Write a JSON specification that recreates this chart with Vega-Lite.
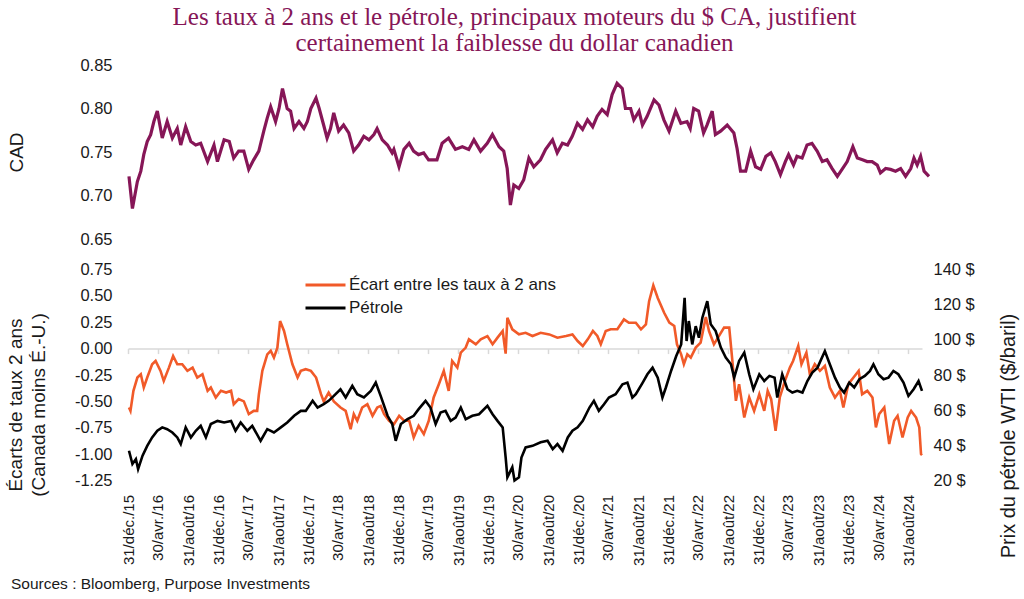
{
"$schema": "https://vega.github.io/schema/vega-lite/v6.json",
"background": "white",
"padding": {"left": 6, "top": 5, "right": 4, "bottom": 4},
"config": {"view": {"stroke": null}, "axis": {"labelFont": "Liberation Sans", "titleFont": "Liberation Sans", "labelColor": "#1a1a1a", "titleColor": "#1a1a1a", "titleFontWeight": "normal", "grid": false}},
"resolve": {"scale": {"x": "independent", "y": "independent", "color": "independent"}},
"spacing": 30.5,
"bounds": "flush",
"datasets": {
"cad": [
{"d":"2016-01-04","v":0.722},{"d":"2016-01-18","v":0.685},{"d":"2016-02-07","v":0.716},{"d":"2016-02-21","v":0.728},{"d":"2016-03-04","v":0.747},{"d":"2016-03-18","v":0.762},{"d":"2016-04-01","v":0.770},{"d":"2016-04-14","v":0.785},{"d":"2016-04-28","v":0.797},{"d":"2016-05-18","v":0.766},{"d":"2016-06-07","v":0.785},{"d":"2016-06-28","v":0.766},{"d":"2016-07-18","v":0.777},{"d":"2016-08-01","v":0.758},{"d":"2016-08-21","v":0.779},{"d":"2016-09-11","v":0.762},{"d":"2016-10-01","v":0.758},{"d":"2016-10-21","v":0.760},{"d":"2016-11-18","v":0.739},{"d":"2016-12-14","v":0.758},{"d":"2016-12-28","v":0.739},
{"d":"2017-01-24","v":0.764},{"d":"2017-02-14","v":0.762},{"d":"2017-03-04","v":0.743},{"d":"2017-03-24","v":0.751},{"d":"2017-04-14","v":0.751},{"d":"2017-05-04","v":0.730},{"d":"2017-05-24","v":0.741},{"d":"2017-06-14","v":0.751},{"d":"2017-07-04","v":0.774},{"d":"2017-07-18","v":0.789},{"d":"2017-08-01","v":0.802},{"d":"2017-08-21","v":0.785},{"d":"2017-09-04","v":0.800},{"d":"2017-09-18","v":0.823},{"d":"2017-10-07","v":0.800},{"d":"2017-10-21","v":0.797},{"d":"2017-11-04","v":0.777},{"d":"2017-11-24","v":0.785},{"d":"2017-12-14","v":0.777},{"d":"2017-12-28","v":0.785},
{"d":"2018-01-11","v":0.800},{"d":"2018-02-01","v":0.812},{"d":"2018-02-14","v":0.800},{"d":"2018-03-04","v":0.781},{"d":"2018-03-18","v":0.766},{"d":"2018-04-01","v":0.777},{"d":"2018-04-14","v":0.795},{"d":"2018-05-04","v":0.774},{"d":"2018-05-24","v":0.781},{"d":"2018-06-14","v":0.772},{"d":"2018-07-04","v":0.751},{"d":"2018-07-24","v":0.758},{"d":"2018-08-14","v":0.768},{"d":"2018-09-04","v":0.764},{"d":"2018-09-24","v":0.770},{"d":"2018-10-07","v":0.777},{"d":"2018-10-28","v":0.764},{"d":"2018-11-18","v":0.758},{"d":"2018-12-07","v":0.749},{"d":"2018-12-14","v":0.753},
{"d":"2019-01-04","v":0.733},{"d":"2019-01-24","v":0.753},{"d":"2019-02-14","v":0.760},{"d":"2019-03-04","v":0.751},{"d":"2019-03-24","v":0.747},{"d":"2019-04-14","v":0.749},{"d":"2019-05-04","v":0.741},{"d":"2019-06-07","v":0.741},{"d":"2019-06-28","v":0.760},{"d":"2019-07-24","v":0.766},{"d":"2019-08-21","v":0.753},{"d":"2019-09-18","v":0.756},{"d":"2019-10-14","v":0.753},{"d":"2019-11-04","v":0.764},{"d":"2019-12-01","v":0.751},{"d":"2019-12-28","v":0.760},
{"d":"2020-01-18","v":0.770},{"d":"2020-02-14","v":0.756},{"d":"2020-03-04","v":0.751},{"d":"2020-03-18","v":0.731},{"d":"2020-03-31","v":0.689},{"d":"2020-04-14","v":0.712},{"d":"2020-05-04","v":0.708},{"d":"2020-05-24","v":0.718},{"d":"2020-06-14","v":0.743},{"d":"2020-07-04","v":0.733},{"d":"2020-07-31","v":0.741},{"d":"2020-08-21","v":0.753},{"d":"2020-09-18","v":0.764},{"d":"2020-10-07","v":0.749},{"d":"2020-10-28","v":0.760},{"d":"2020-11-18","v":0.758},{"d":"2020-12-07","v":0.768},{"d":"2020-12-28","v":0.783},
{"d":"2021-01-18","v":0.776},{"d":"2021-02-07","v":0.787},{"d":"2021-02-28","v":0.779},{"d":"2021-03-18","v":0.791},{"d":"2021-04-07","v":0.799},{"d":"2021-04-28","v":0.793},{"d":"2021-05-18","v":0.816},{"d":"2021-06-07","v":0.829},{"d":"2021-06-28","v":0.823},{"d":"2021-07-11","v":0.800},{"d":"2021-08-01","v":0.800},{"d":"2021-08-14","v":0.787},{"d":"2021-09-04","v":0.797},{"d":"2021-09-18","v":0.781},{"d":"2021-10-07","v":0.791},{"d":"2021-11-04","v":0.810},{"d":"2021-11-24","v":0.804},{"d":"2021-12-14","v":0.787},
{"d":"2022-01-04","v":0.774},{"d":"2022-01-31","v":0.797},{"d":"2022-02-21","v":0.783},{"d":"2022-03-18","v":0.785},{"d":"2022-03-31","v":0.777},{"d":"2022-04-14","v":0.800},{"d":"2022-05-04","v":0.797},{"d":"2022-05-24","v":0.772},{"d":"2022-06-07","v":0.781},{"d":"2022-06-28","v":0.797},{"d":"2022-07-11","v":0.770},{"d":"2022-08-01","v":0.774},{"d":"2022-08-28","v":0.781},{"d":"2022-09-24","v":0.772},{"d":"2022-10-07","v":0.754},{"d":"2022-10-21","v":0.728},{"d":"2022-11-11","v":0.728},{"d":"2022-12-01","v":0.751},{"d":"2022-12-21","v":0.733},
{"d":"2023-01-11","v":0.730},{"d":"2023-02-01","v":0.745},{"d":"2023-02-21","v":0.749},{"d":"2023-03-11","v":0.739},{"d":"2023-04-01","v":0.724},{"d":"2023-04-21","v":0.739},{"d":"2023-05-04","v":0.747},{"d":"2023-05-24","v":0.735},{"d":"2023-06-07","v":0.745},{"d":"2023-06-28","v":0.743},{"d":"2023-07-18","v":0.758},{"d":"2023-08-07","v":0.760},{"d":"2023-08-28","v":0.751},{"d":"2023-09-18","v":0.739},{"d":"2023-10-07","v":0.741},{"d":"2023-10-28","v":0.731},{"d":"2023-11-18","v":0.722},{"d":"2023-12-07","v":0.730},{"d":"2023-12-28","v":0.739},
{"d":"2024-01-20","v":0.756},{"d":"2024-02-07","v":0.743},{"d":"2024-02-28","v":0.741},{"d":"2024-03-18","v":0.739},{"d":"2024-04-07","v":0.739},{"d":"2024-04-28","v":0.735},{"d":"2024-05-11","v":0.726},{"d":"2024-06-01","v":0.731},{"d":"2024-06-21","v":0.730},{"d":"2024-07-11","v":0.728},{"d":"2024-08-01","v":0.731},{"d":"2024-08-21","v":0.722},{"d":"2024-09-11","v":0.731},{"d":"2024-09-24","v":0.743},{"d":"2024-10-07","v":0.735},{"d":"2024-10-21","v":0.745},{"d":"2024-11-04","v":0.728},{"d":"2024-11-24","v":0.722}
],
"spread": [
{"d":"2016-01-04","v":-0.558},{"d":"2016-01-10","v":-0.59},{"d":"2016-01-22","v":-0.40},{"d":"2016-02-07","v":-0.274},{"d":"2016-02-21","v":-0.243},{"d":"2016-03-04","v":-0.369},{"d":"2016-03-18","v":-0.274},{"d":"2016-04-07","v":-0.148},{"d":"2016-04-21","v":-0.117},{"d":"2016-05-11","v":-0.211},{"d":"2016-05-24","v":-0.306},{"d":"2016-06-14","v":-0.18},{"d":"2016-07-01","v":-0.07},{"d":"2016-07-18","v":-0.148},{"d":"2016-08-07","v":-0.148},{"d":"2016-08-28","v":-0.211},{"d":"2016-09-18","v":-0.18},{"d":"2016-10-07","v":-0.274},{"d":"2016-10-28","v":-0.243},{"d":"2016-11-18","v":-0.40},{"d":"2016-12-01","v":-0.369},{"d":"2016-12-21","v":-0.463},
{"d":"2017-01-11","v":-0.40},{"d":"2017-02-01","v":-0.416},{"d":"2017-02-21","v":-0.40},{"d":"2017-03-04","v":-0.527},{"d":"2017-03-24","v":-0.479},{"d":"2017-04-14","v":-0.50},{"d":"2017-05-04","v":-0.621},{"d":"2017-05-24","v":-0.59},{"d":"2017-06-07","v":-0.59},{"d":"2017-06-14","v":-0.432},{"d":"2017-06-28","v":-0.211},{"d":"2017-07-18","v":-0.054},{"d":"2017-08-01","v":-0.02},{"d":"2017-08-14","v":-0.085},{"d":"2017-08-28","v":0.009},{"d":"2017-09-08","v":0.261},{"d":"2017-09-24","v":0.167},{"d":"2017-10-07","v":0.041},{"d":"2017-10-28","v":-0.148},{"d":"2017-11-18","v":-0.274},{"d":"2017-12-01","v":-0.211},{"d":"2017-12-21","v":-0.195},
{"d":"2018-01-11","v":-0.211},{"d":"2018-02-01","v":-0.274},{"d":"2018-02-21","v":-0.432},{"d":"2018-03-04","v":-0.50},{"d":"2018-03-24","v":-0.416},{"d":"2018-04-14","v":-0.50},{"d":"2018-05-11","v":-0.558},{"d":"2018-06-01","v":-0.59},{"d":"2018-06-21","v":-0.763},{"d":"2018-07-04","v":-0.621},{"d":"2018-07-18","v":-0.684},{"d":"2018-08-07","v":-0.558},{"d":"2018-08-28","v":-0.527},{"d":"2018-09-18","v":-0.637},{"d":"2018-10-07","v":-0.558},{"d":"2018-10-21","v":-0.543},{"d":"2018-11-04","v":-0.621},{"d":"2018-11-24","v":-0.684},{"d":"2018-12-14","v":-0.716},
{"d":"2019-01-04","v":-0.637},{"d":"2019-01-24","v":-0.684},{"d":"2019-02-14","v":-0.684},{"d":"2019-03-04","v":-0.842},{"d":"2019-03-24","v":-0.732},{"d":"2019-04-14","v":-0.81},{"d":"2019-05-04","v":-0.684},{"d":"2019-05-24","v":-0.463},{"d":"2019-06-14","v":-0.337},{"d":"2019-07-04","v":-0.211},{"d":"2019-07-24","v":-0.401},{"d":"2019-08-07","v":-0.117},{"d":"2019-08-28","v":-0.18},{"d":"2019-09-11","v":-0.038},{"d":"2019-10-01","v":0.01},{"d":"2019-10-14","v":0.088},{"d":"2019-11-11","v":0.041},{"d":"2019-12-01","v":0.088},{"d":"2019-12-28","v":0.119},
{"d":"2020-01-18","v":0.041},{"d":"2020-02-07","v":0.104},{"d":"2020-02-28","v":0.167},{"d":"2020-03-11","v":-0.047},{"d":"2020-03-18","v":0.293},{"d":"2020-04-07","v":0.183},{"d":"2020-05-04","v":0.135},{"d":"2020-05-31","v":0.15},{"d":"2020-06-28","v":0.12},{"d":"2020-07-31","v":0.15},{"d":"2020-09-04","v":0.135},{"d":"2020-10-07","v":0.104},{"d":"2020-11-11","v":0.12},{"d":"2020-12-07","v":0.135},{"d":"2020-12-28","v":0.072},
{"d":"2021-01-18","v":0.025},{"d":"2021-02-07","v":0.088},{"d":"2021-02-28","v":0.167},{"d":"2021-03-18","v":0.12},{"d":"2021-04-01","v":0.041},{"d":"2021-04-21","v":0.167},{"d":"2021-05-11","v":0.183},{"d":"2021-06-07","v":0.183},{"d":"2021-07-04","v":0.277},{"d":"2021-07-24","v":0.245},{"d":"2021-08-21","v":0.245},{"d":"2021-09-11","v":0.183},{"d":"2021-10-01","v":0.23},{"d":"2021-10-14","v":0.45},{"d":"2021-10-31","v":0.60},{"d":"2021-11-18","v":0.48},{"d":"2021-12-14","v":0.34},
{"d":"2022-01-04","v":0.246},{"d":"2022-01-24","v":0.214},{"d":"2022-02-04","v":0.041},{"d":"2022-02-21","v":-0.054},{"d":"2022-03-04","v":-0.148},{"d":"2022-03-18","v":-0.054},{"d":"2022-04-01","v":-0.085},{"d":"2022-04-21","v":0.01},{"d":"2022-05-11","v":0.057},{"d":"2022-06-01","v":0.30},{"d":"2022-06-14","v":0.167},{"d":"2022-07-04","v":0.041},{"d":"2022-07-24","v":0.119},{"d":"2022-08-14","v":0.199},{"d":"2022-09-04","v":0.199},{"d":"2022-09-18","v":-0.148},{"d":"2022-10-01","v":-0.495},{"d":"2022-10-14","v":-0.337},{"d":"2022-11-04","v":-0.653},{"d":"2022-11-24","v":-0.463},{"d":"2022-12-14","v":-0.59},
{"d":"2023-01-04","v":-0.432},{"d":"2023-01-24","v":-0.59},{"d":"2023-02-07","v":-0.40},{"d":"2023-02-21","v":-0.479},{"d":"2023-03-11","v":-0.779},{"d":"2023-03-28","v":-0.463},{"d":"2023-04-18","v":-0.306},{"d":"2023-05-08","v":-0.18},{"d":"2023-05-21","v":-0.117},{"d":"2023-06-11","v":0.025},{"d":"2023-06-24","v":-0.148},{"d":"2023-07-14","v":-0.038},{"d":"2023-07-28","v":-0.243},{"d":"2023-08-17","v":-0.148},{"d":"2023-09-07","v":-0.211},{"d":"2023-09-27","v":-0.164},{"d":"2023-10-17","v":-0.369},{"d":"2023-11-07","v":-0.463},{"d":"2023-11-27","v":-0.40},{"d":"2023-12-11","v":-0.558},{"d":"2023-12-31","v":-0.337},
{"d":"2024-01-21","v":-0.274},{"d":"2024-02-11","v":-0.211},{"d":"2024-02-25","v":-0.432},{"d":"2024-03-17","v":-0.40},{"d":"2024-04-07","v":-0.463},{"d":"2024-04-21","v":-0.747},{"d":"2024-05-04","v":-0.621},{"d":"2024-05-25","v":-0.558},{"d":"2024-06-14","v":-0.905},{"d":"2024-07-04","v":-0.684},{"d":"2024-07-18","v":-0.637},{"d":"2024-08-07","v":-0.842},{"d":"2024-08-28","v":-0.653},{"d":"2024-09-11","v":-0.59},{"d":"2024-10-01","v":-0.653},{"d":"2024-10-14","v":-0.747},{"d":"2024-10-21","v":-0.999},{"d":"2024-10-25","v":-1.01}
],
"oil": [
{"d":"2016-01-04","v":36.9},{"d":"2016-01-18","v":29.4},{"d":"2016-02-01","v":32.2},{"d":"2016-02-10","v":26.5},{"d":"2016-02-28","v":34.1},{"d":"2016-03-18","v":39.7},{"d":"2016-04-07","v":44.5},{"d":"2016-04-28","v":48.3},{"d":"2016-05-18","v":50.2},{"d":"2016-06-07","v":49.2},{"d":"2016-06-28","v":47.3},{"d":"2016-07-18","v":44.5},{"d":"2016-08-01","v":40.7},{"d":"2016-08-21","v":50.2},{"d":"2016-09-11","v":44.5},{"d":"2016-10-01","v":48.3},{"d":"2016-10-21","v":51.1},{"d":"2016-11-11","v":44.5},{"d":"2016-12-01","v":52.1},{"d":"2016-12-28","v":53.9},
{"d":"2017-01-24","v":53.0},{"d":"2017-02-21","v":53.9},{"d":"2017-03-11","v":48.3},{"d":"2017-04-01","v":53.0},{"d":"2017-04-28","v":48.3},{"d":"2017-05-18","v":51.1},{"d":"2017-06-21","v":42.6},{"d":"2017-07-18","v":49.2},{"d":"2017-08-14","v":47.3},{"d":"2017-09-11","v":50.2},{"d":"2017-10-07","v":53.0},{"d":"2017-11-04","v":56.8},{"d":"2017-12-01","v":59.6},{"d":"2017-12-21","v":59.6},
{"d":"2018-01-18","v":65.3},{"d":"2018-02-07","v":61.5},{"d":"2018-03-04","v":63.4},{"d":"2018-03-24","v":65.3},{"d":"2018-04-14","v":68.1},{"d":"2018-05-11","v":71.9},{"d":"2018-06-01","v":67.2},{"d":"2018-06-28","v":73.8},{"d":"2018-07-18","v":69.1},{"d":"2018-08-14","v":67.2},{"d":"2018-09-11","v":71.0},{"d":"2018-10-01","v":75.7},{"d":"2018-10-21","v":68.1},{"d":"2018-11-18","v":56.8},{"d":"2018-12-07","v":52.1},{"d":"2018-12-21","v":42.6},
{"d":"2019-01-11","v":52.1},{"d":"2019-02-07","v":54.9},{"d":"2019-03-04","v":56.8},{"d":"2019-03-24","v":60.6},{"d":"2019-04-21","v":65.3},{"d":"2019-05-11","v":61.5},{"d":"2019-06-01","v":52.1},{"d":"2019-06-21","v":58.7},{"d":"2019-07-11","v":59.6},{"d":"2019-08-01","v":53.9},{"d":"2019-08-21","v":55.8},{"d":"2019-09-11","v":61.5},{"d":"2019-10-01","v":54.9},{"d":"2019-10-28","v":56.8},{"d":"2019-11-24","v":57.7},{"d":"2019-12-28","v":62.5},
{"d":"2020-01-18","v":57.7},{"d":"2020-02-07","v":53.9},{"d":"2020-02-28","v":50.2},{"d":"2020-03-11","v":33.1},{"d":"2020-03-18","v":21.8},{"d":"2020-04-07","v":27.5},{"d":"2020-04-16","v":20.0},{"d":"2020-05-04","v":21.8},{"d":"2020-05-14","v":33.1},{"d":"2020-05-31","v":38.8},{"d":"2020-06-28","v":39.7},{"d":"2020-07-31","v":41.7},{"d":"2020-08-28","v":42.6},{"d":"2020-09-18","v":37.9},{"d":"2020-10-07","v":40.7},{"d":"2020-10-28","v":36.9},{"d":"2020-11-18","v":44.5},{"d":"2020-12-07","v":48.3},{"d":"2020-12-28","v":50.2},
{"d":"2021-01-18","v":53.9},{"d":"2021-02-14","v":61.5},{"d":"2021-03-04","v":65.3},{"d":"2021-03-24","v":59.6},{"d":"2021-04-14","v":63.4},{"d":"2021-05-04","v":67.2},{"d":"2021-05-31","v":69.1},{"d":"2021-06-28","v":74.7},{"d":"2021-07-18","v":75.7},{"d":"2021-08-07","v":67.2},{"d":"2021-08-21","v":69.1},{"d":"2021-09-18","v":75.7},{"d":"2021-10-07","v":80.4},{"d":"2021-10-28","v":84.2},{"d":"2021-11-18","v":78.5},{"d":"2021-12-07","v":67.2},{"d":"2021-12-21","v":72.9},
{"d":"2022-01-11","v":82.3},{"d":"2022-02-01","v":90.8},{"d":"2022-02-21","v":97.4},{"d":"2022-03-07","v":123.9},{"d":"2022-03-15","v":99.3},{"d":"2022-03-24","v":110.7},{"d":"2022-04-07","v":97.4},{"d":"2022-04-21","v":107.8},{"d":"2022-05-04","v":101.2},{"d":"2022-05-18","v":112.6},{"d":"2022-06-07","v":122.0},{"d":"2022-06-21","v":108.8},{"d":"2022-07-11","v":105.0},{"d":"2022-08-01","v":95.6},{"d":"2022-08-21","v":89.9},{"d":"2022-09-11","v":86.1},{"d":"2022-09-24","v":78.5},{"d":"2022-10-14","v":88.0},{"d":"2022-11-04","v":92.7},{"d":"2022-11-24","v":80.4},{"d":"2022-12-11","v":71.9},
{"d":"2023-01-04","v":80.4},{"d":"2023-01-24","v":76.6},{"d":"2023-02-14","v":79.5},{"d":"2023-03-07","v":78.5},{"d":"2023-03-18","v":67.2},{"d":"2023-04-07","v":80.4},{"d":"2023-04-28","v":71.9},{"d":"2023-05-18","v":70.0},{"d":"2023-06-07","v":71.0},{"d":"2023-06-28","v":70.0},{"d":"2023-07-18","v":76.6},{"d":"2023-08-07","v":81.4},{"d":"2023-08-28","v":84.2},{"d":"2023-09-27","v":93.6},{"d":"2023-10-17","v":86.1},{"d":"2023-11-07","v":78.5},{"d":"2023-11-27","v":72.9},{"d":"2023-12-14","v":70.0},
{"d":"2024-01-04","v":75.7},{"d":"2024-01-24","v":72.9},{"d":"2024-02-14","v":77.6},{"d":"2024-03-07","v":79.5},{"d":"2024-03-28","v":82.3},{"d":"2024-04-11","v":86.1},{"d":"2024-05-01","v":80.4},{"d":"2024-05-22","v":77.6},{"d":"2024-06-11","v":78.5},{"d":"2024-07-01","v":82.3},{"d":"2024-07-21","v":80.4},{"d":"2024-08-11","v":75.7},{"d":"2024-08-31","v":68.1},{"d":"2024-09-21","v":71.9},{"d":"2024-10-11","v":76.6},{"d":"2024-10-25","v":71.0}
]
},
"vconcat": [
{
"width": 801, "height": 174,
"title": {"text": ["Les taux à 2 ans et le pétrole, principaux moteurs du $ CA, justifient", "certainement la faiblesse du dollar canadien"], "font": "Liberation Serif", "fontSize": 25, "fontWeight": "normal", "color": "#861657", "anchor": "middle", "frame": "group", "lineHeight": 26, "offset": 1, "dx": -14},
"data": {"name": "cad"},
"mark": {"type": "line", "color": "#861657", "strokeWidth": 3.2},
"encoding": {
"x": {"field": "d", "type": "temporal", "scale": {"domain": [{"year":2015,"month":12,"date":31},{"year":2024,"month":11,"date":24}]}, "axis": null},
"y": {"field": "v", "type": "quantitative", "scale": {"domain": [0.65, 0.85], "nice": false, "zero": false},
 "axis": {"values": [0.65,0.7,0.75,0.8,0.85], "format": ".2f", "title": "CAD", "titleX": -112, "titleY": 87, "titleAngle": 270, "titleBaseline": "middle", "titleAlign": "center", "titleFontSize": 19, "domain": false, "ticks": false, "labelPadding": 16, "labelFontSize": 16.5}}
}
},
{
"width": 794, "height": 211,
"title": {"text": "Sources : Bloomberg, Purpose Investments", "orient": "bottom", "anchor": "start", "frame": "bounds", "font": "Liberation Sans Narrow, Liberation Sans", "fontSize": 15.5, "fontWeight": "normal", "color": "#1a1a1a", "offset": 12, "dx": 5},
"layer": [
{
"data": {"name": "spread"},
"mark": {"type": "line", "strokeWidth": 2.6},
"encoding": {
"x": {"field": "d", "type": "temporal", "scale": {"domain": [{"year":2015,"month":12,"date":31},{"year":2024,"month":10,"date":25}]},
 "axis": {"values": [{"year":2015,"month":12,"date":31},{"year":2016,"month":4,"date":30},{"year":2016,"month":8,"date":31},{"year":2016,"month":12,"date":31},{"year":2017,"month":4,"date":30},{"year":2017,"month":8,"date":31},{"year":2017,"month":12,"date":31},{"year":2018,"month":4,"date":30},{"year":2018,"month":8,"date":31},{"year":2018,"month":12,"date":31},{"year":2019,"month":4,"date":30},{"year":2019,"month":8,"date":31},{"year":2019,"month":12,"date":31},{"year":2020,"month":4,"date":30},{"year":2020,"month":8,"date":31},{"year":2020,"month":12,"date":31},{"year":2021,"month":4,"date":30},{"year":2021,"month":8,"date":31},{"year":2021,"month":12,"date":31},{"year":2022,"month":4,"date":30},{"year":2022,"month":8,"date":31},{"year":2022,"month":12,"date":31},{"year":2023,"month":4,"date":30},{"year":2023,"month":8,"date":31},{"year":2023,"month":12,"date":31},{"year":2024,"month":4,"date":30},{"year":2024,"month":8,"date":31}],
  "labelExpr": "date(datum.value) + '/' + ['janv.','févr.','mars','avr.','mai','juin','juil.','août','sept.','oct.','nov.','déc.'][month(datum.value)] + '/' + timeFormat(datum.value, '%y')",
  "labelAngle": -90, "labelFontSize": 15, "labelPadding": 14, "domain": false, "ticks": false, "title": null, "labelOverlap": false, "labelBound": false, "labelFlush": false}},
"y": {"field": "v", "type": "quantitative", "scale": {"domain": [-1.25, 0.75], "nice": false, "zero": false},
 "axis": {"values": [-1.25,-1,-0.75,-0.5,-0.25,0,0.25,0.5,0.75], "labelExpr": "replace(format(datum.value, '.2f'), '\u2212', '-')", "title": ["Écarts de taux 2 ans", "(Canada moins É.-U.)"], "titleX": -113, "titleY": 135, "titleAngle": 270, "titleBaseline": "middle", "titleAlign": "center", "titleFontSize": 19, "titleLineHeight": 23, "domain": false, "ticks": false, "labelPadding": 16, "labelFontSize": 16.5}},
"color": {"datum": "Écart entre les taux à 2 ans", "type": "nominal", "scale": {"domain": ["Écart entre les taux à 2 ans", "Pétrole"], "range": ["#F15A29", "#000000"]},
 "legend": {"orient": "none", "legendX": 186, "legendY": 4, "title": null, "symbolType": "M-2,0H2", "symbolSize": 400, "symbolStrokeWidth": 3, "labelFont": "Liberation Sans", "labelFontSize": 17, "labelColor": "#1a1a1a", "labelLimit": 400, "rowPadding": 3, "labelOffset": 12, "padding": 0}}
}
},
{
"data": {"name": "oil"},
"mark": {"type": "line", "strokeWidth": 2.6},
"encoding": {
"x": {"field": "d", "type": "temporal", "scale": {"domain": [{"year":2015,"month":12,"date":31},{"year":2024,"month":10,"date":25}]},
 "axis": {"orient": "top", "values": [{"year":2015,"month":12,"date":31},{"year":2016,"month":4,"date":30},{"year":2016,"month":8,"date":31},{"year":2016,"month":12,"date":31},{"year":2017,"month":4,"date":30},{"year":2017,"month":8,"date":31},{"year":2017,"month":12,"date":31},{"year":2018,"month":4,"date":30},{"year":2018,"month":8,"date":31},{"year":2018,"month":12,"date":31},{"year":2019,"month":4,"date":30},{"year":2019,"month":8,"date":31},{"year":2019,"month":12,"date":31},{"year":2020,"month":4,"date":30},{"year":2020,"month":8,"date":31},{"year":2020,"month":12,"date":31},{"year":2021,"month":4,"date":30},{"year":2021,"month":8,"date":31},{"year":2021,"month":12,"date":31},{"year":2022,"month":4,"date":30},{"year":2022,"month":8,"date":31},{"year":2022,"month":12,"date":31},{"year":2023,"month":4,"date":30},{"year":2023,"month":8,"date":31},{"year":2023,"month":12,"date":31},{"year":2024,"month":4,"date":30},{"year":2024,"month":8,"date":31}],
  "labels": false, "domain": true, "domainColor": "#d9d9d9", "domainWidth": 1.5, "ticks": true, "tickColor": "#d9d9d9", "tickSize": -5, "tickWidth": 1.5, "offset": -79.1, "title": null, "zindex": 0}},
"y": {"field": "v", "type": "quantitative", "scale": {"domain": [20, 140], "nice": false, "zero": false},
 "axis": {"orient": "right", "values": [20,40,60,80,100,120,140], "labelExpr": "datum.value + ' $'", "title": "Prix du pétrole WTI ($/baril)", "titleX": 86, "titleY": 166, "titleAngle": 270, "titleBaseline": "middle", "titleAlign": "center", "titleFontSize": 20, "domain": false, "ticks": false, "labelPadding": 11, "labelFontSize": 16.5}},
"color": {"datum": "Pétrole", "type": "nominal"}
}
}
],
"resolve": {"scale": {"y": "independent"}, "axis": {"x": "independent"}}
}
]
}
